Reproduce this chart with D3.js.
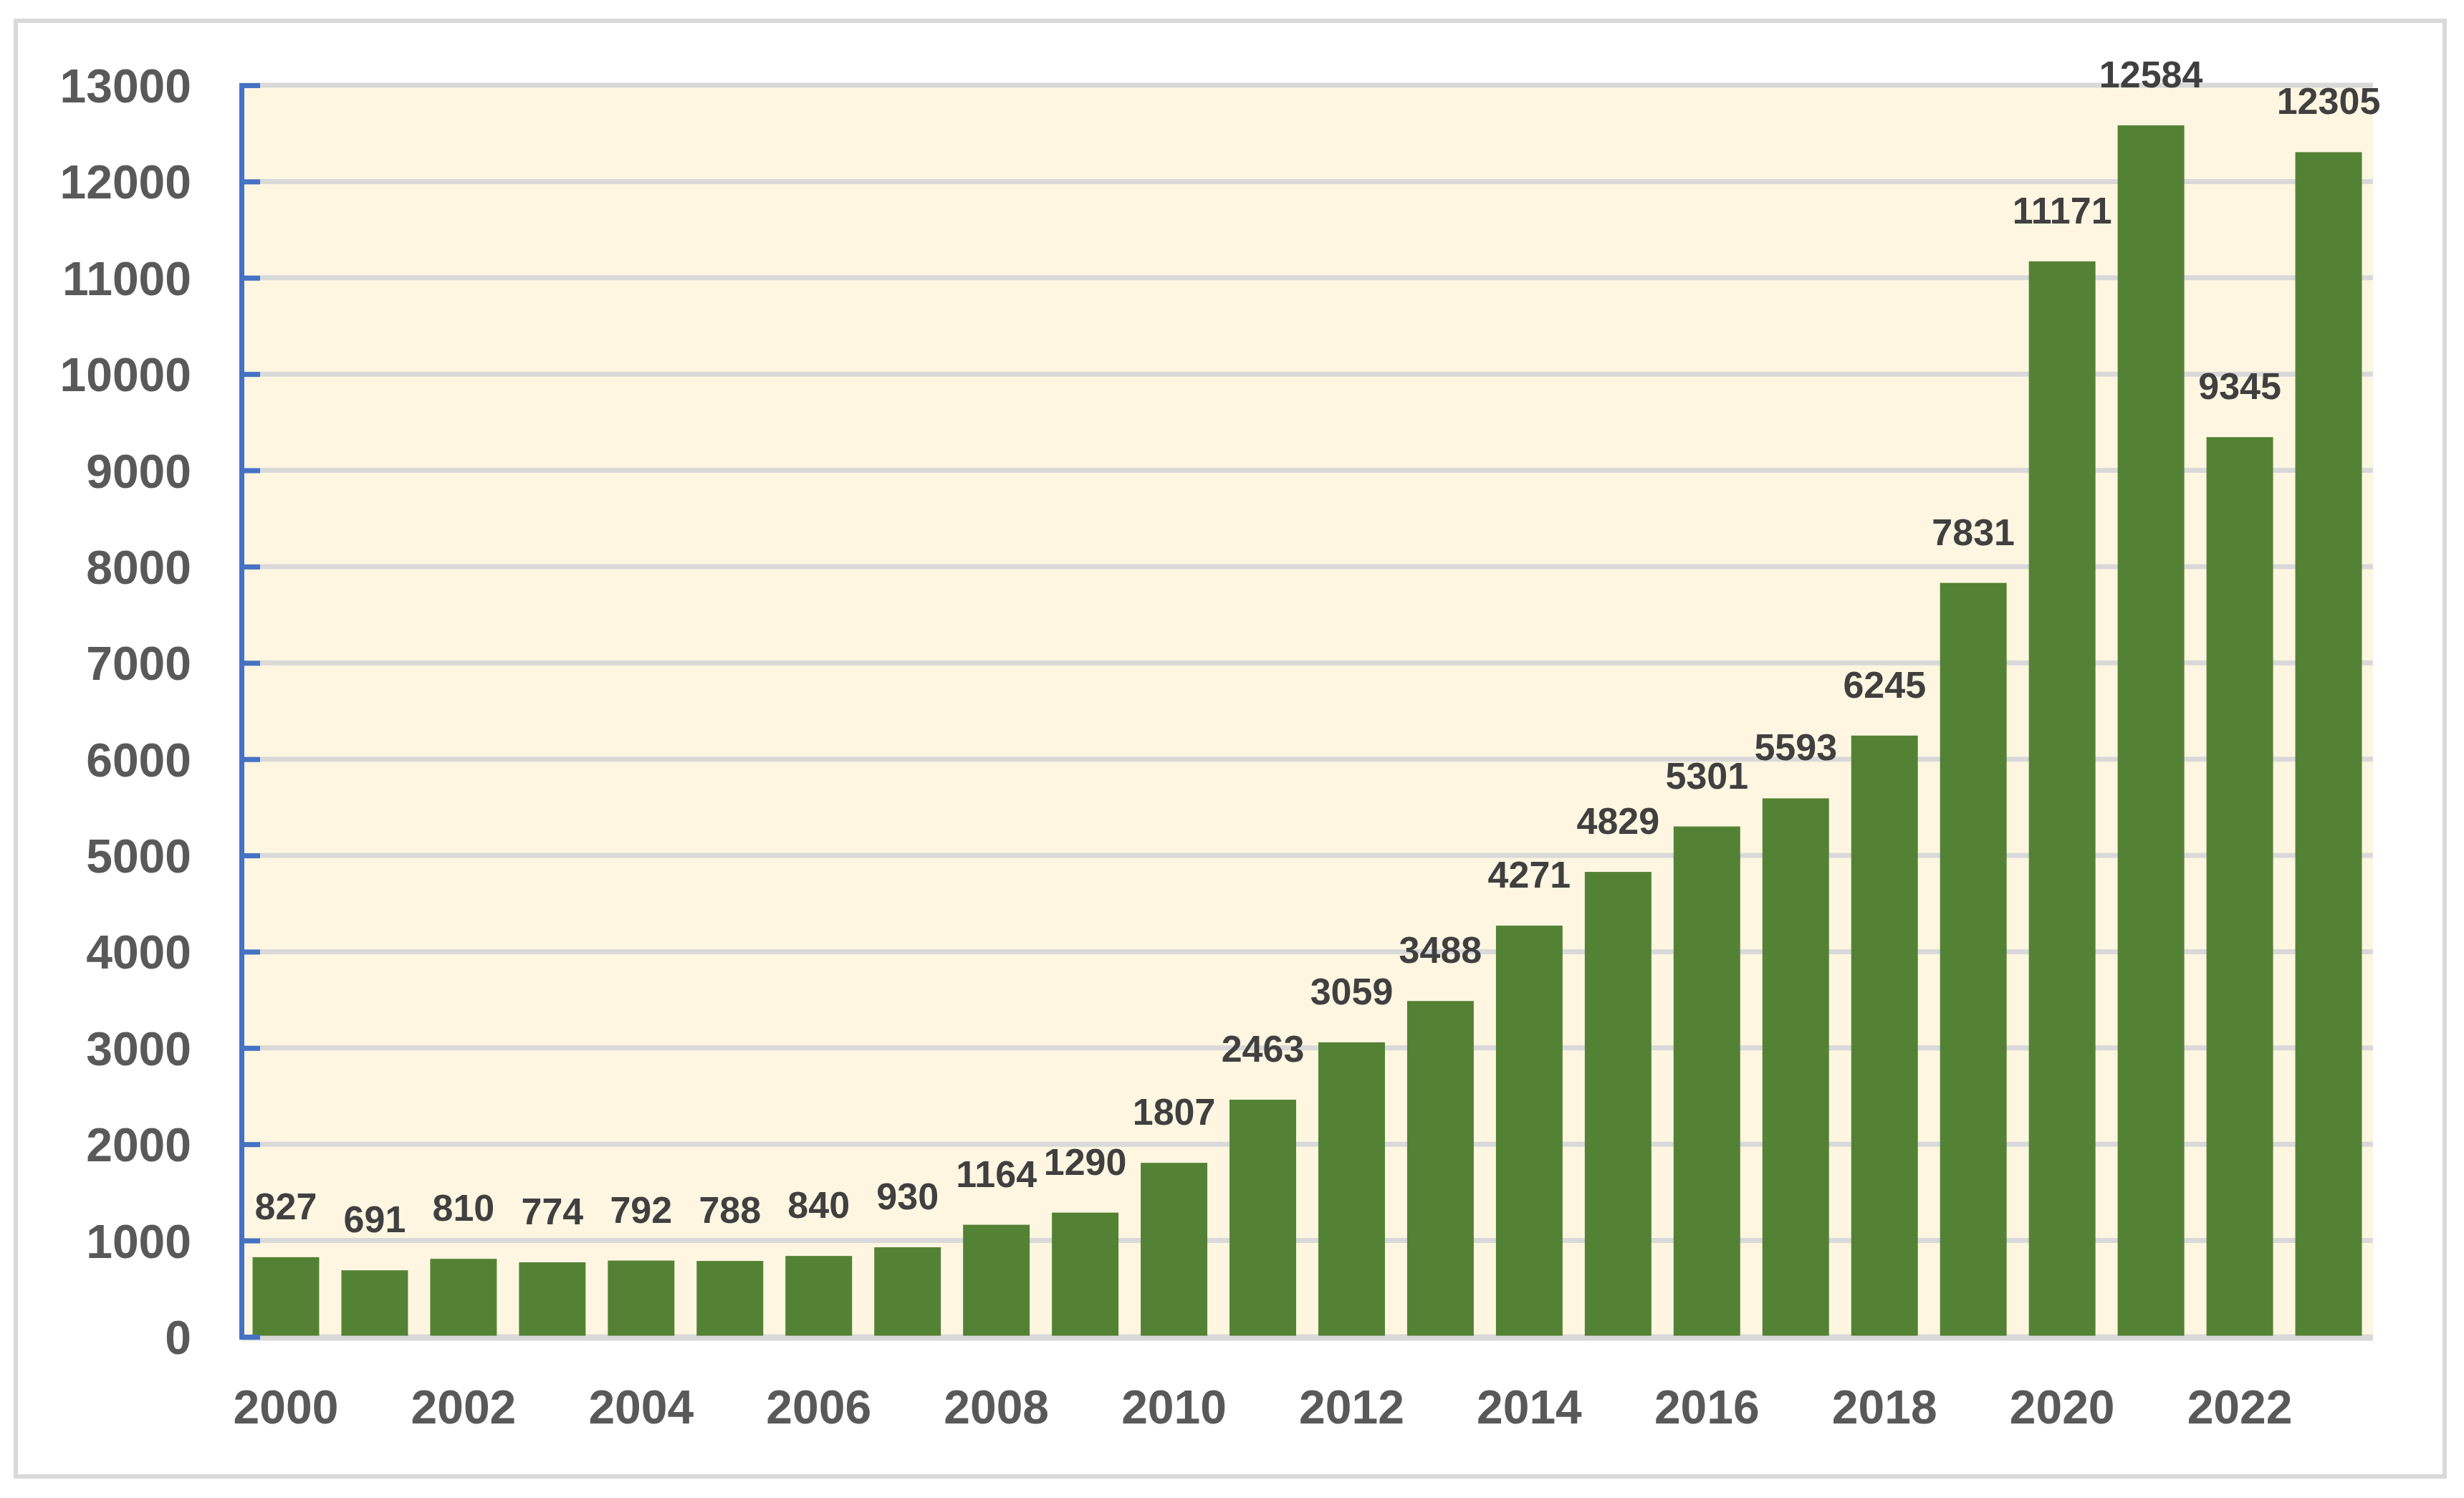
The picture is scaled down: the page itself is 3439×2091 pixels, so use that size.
<!DOCTYPE html>
<html><head><meta charset="utf-8">
<script src="https://cdn.jsdelivr.net/npm/d3@7"></script>
<style>body{margin:0;background:#fff}</style></head>
<body><svg id="c" width="3439" height="2091"></svg>
<script>
const years=[2000,2001,2002,2003,2004,2005,2006,2007,2008,2009,2010,2011,2012,2013,2014,2015,2016,2017,2018,2019,2020,2021,2022,2023];
const values=[827,691,810,774,792,788,840,930,1164,1290,1807,2463,3059,3488,4271,4829,5301,5593,6245,7831,11171,12584,9345,12305];
const yTicks=d3.range(0,13001,1000);
const xTickYears=years.filter(y=>y%2===0);

const svg=d3.select("#c");
const L=337,R=3312,T=119,B=1866;
svg.append("rect").attr("x",22).attr("y",29).attr("width",3390).attr("height",2032)
  .attr("fill","#fff").attr("stroke","#d9d9d9").attr("stroke-width",6);
const x=d3.scaleBand().domain(years).range([L,R]).paddingInner(0.25).paddingOuter(0.125);
const y=d3.scaleLinear().domain([0,13000]).range([B,T]);
svg.append("rect").attr("x",L).attr("y",T).attr("width",R-L).attr("height",B-T).attr("fill","#FEF6E1");
// grid
svg.append("g").selectAll("line").data(yTicks).join("line")
  .attr("x1",L).attr("x2",R).attr("y1",d=>y(d)).attr("y2",d=>y(d))
  .attr("stroke","#d9d9d9").attr("stroke-width",7);
// bars
svg.append("g").selectAll("rect").data(values).join("rect")
  .attr("x",(d,i)=>x(years[i])).attr("width",x.bandwidth())
  .attr("y",d=>y(d)).attr("height",d=>B-y(d)).attr("fill","#548235");
// bottom axis line
svg.append("line").attr("x1",L).attr("x2",R).attr("y1",B+2).attr("y2",B+2).attr("stroke","#d9d9d9").attr("stroke-width",7);
// y axis
const ya=svg.append("g").attr("transform",`translate(${L},0)`)
  .call(d3.axisRight(y).tickValues(yTicks).tickSize(26).tickFormat(""));
ya.select(".domain").attr("stroke","#4472C4").attr("stroke-width",7);
ya.selectAll(".tick line").attr("stroke","#4472C4").attr("stroke-width",7);
svg.append("g").selectAll("text").data(yTicks).join("text")
  .attr("x",267).attr("y",d=>y(d)+24).attr("text-anchor","end")
  .attr("font-family","Liberation Sans, Arial").attr("font-weight","bold").attr("font-size",66)
  .attr("fill","#595959").text(d=>d);
// x labels
const xa=svg.append("g").attr("transform",`translate(0,${B})`)
  .call(d3.axisBottom(x).tickValues(xTickYears).tickSize(0).tickPadding(0));
xa.select(".domain").remove();
xa.selectAll("text").attr("dy",0).attr("y",121)
  .attr("font-family","Liberation Sans, Arial").attr("font-weight","bold").attr("font-size",66).attr("fill","#595959");
// data labels
svg.append("g").selectAll("text").data(values).join("text")
  .attr("x",(d,i)=>x(years[i])+x.bandwidth()/2).attr("y",d=>y(d)-53).attr("text-anchor","middle")
  .attr("font-family","Liberation Sans, Arial").attr("font-weight","bold").attr("font-size",52)
  .attr("fill","#404040").text(d=>d);
</script></body></html>
